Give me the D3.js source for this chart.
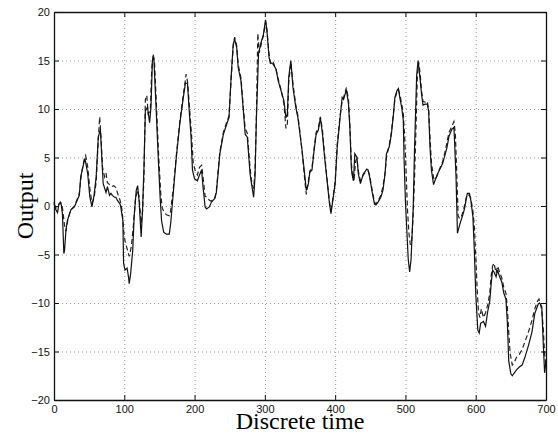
<!DOCTYPE html>
<html>
<head>
<meta charset="utf-8">
<script src="https://cdn.jsdelivr.net/npm/d3@7"></script>
<style>
  body { margin: 0; background: #fff; }
  svg { display: block; }
</style>
</head>
<body>
<div id="chart-container"></div>
<script>
// tick labels
let xTicks = [0, 100, 200, 300, 400, 500, 600, 700];
let yTicks = [-20, -15, -10, -5, 0, 5, 10, 15, 20];

// solid line (time, output)
let solidT = [0, 2, 5, 7, 10, 12, 14, 15, 17, 19, 24, 29, 33, 36, 38, 42, 44, 48, 51, 54, 57, 60, 63, 66, 68, 70, 74, 76, 79, 81, 83, 86, 88, 90, 94, 95, 98, 99, 101, 104, 106, 107, 109, 112, 114, 117, 119, 121, 124, 126, 128, 130, 133, 136, 138, 140, 142, 145, 148.5, 151, 153, 156, 160, 164, 166, 170, 174, 179, 184, 187, 190, 192, 195, 197, 200, 204, 207, 210, 212, 215, 217, 221, 224, 229, 231, 236, 241, 246, 249, 252, 255, 257, 260, 262, 266, 269, 272, 275, 279, 281, 284, 286, 288, 291, 294, 298, 301, 303, 306, 308, 312, 316, 319, 323, 327, 330, 332, 334, 337, 340, 344, 347, 350, 353, 357, 359, 362, 364, 367, 370, 373, 376, 379, 382, 385, 389, 392, 394, 396, 400, 403, 407, 410, 412, 416, 419, 421, 423, 424, 426, 428, 431, 433, 436, 440, 445, 447, 449, 453, 456, 458, 461, 465, 468, 471, 473, 477, 480, 483, 485, 488, 490, 492, 495, 497, 498, 500, 502, 504, 506, 508, 511, 513, 516, 518, 521, 523, 525, 528, 531, 533, 535, 537, 540, 542, 545, 549, 553, 556, 559, 562, 566, 569, 570, 572, 574, 577, 579, 581, 584, 586, 588, 591, 593, 596, 598, 600, 603, 605, 607, 611, 614, 617, 620, 622, 624, 626, 629, 631, 634, 637, 640, 643, 645, 647, 650, 652, 655, 658, 662, 666, 670, 675, 680, 684, 689, 691, 694, 696, 698, 700];
let solidY = [0.4, -0.3, -0.7, 0.2, 0.3, -0.8, -4.9, -4.6, -2.5, -1.5, -0.4, -0.1, 0.6, 1.1, 3.0, 4.3, 4.9, 3.3, 0.9, -0.1, 1.1, 3.0, 7.1, 7.9, 5.0, 2.3, 1.4, 2.0, 1.1, 1.3, 1.1, 0.9, 0.9, 0.6, 0.2, -0.1, -1.5, -5.9, -6.6, -6.4, -7.3, -8.0, -7.0, -4.6, -1.1, 1.6, 2.1, 0.6, -3.2, -0.4, 4.0, 9.8, 10.2, 8.6, 10.2, 15.0, 15.3, 10.5, 4.7, 0.9, -1.5, -2.7, -2.9, -2.9, -1.8, 1.6, 5.0, 8.5, 11.2, 12.7, 12.6, 10.2, 7.1, 3.7, 2.8, 2.6, 3.2, 3.7, 2.0, -0.1, -0.3, -0.1, 0.4, 0.8, 1.4, 5.4, 7.4, 8.5, 9.1, 13.3, 16.7, 17.2, 16.3, 14.3, 12.9, 10.2, 7.4, 7.1, 3.3, 2.3, 0.9, 3.0, 9.1, 15.7, 16.7, 17.7, 19.2, 18.0, 15.3, 14.8, 14.6, 14.1, 12.9, 11.9, 10.9, 9.1, 9.5, 13.3, 15.0, 12.2, 10.2, 9.1, 7.4, 5.7, 3.0, 1.6, 2.3, 3.5, 3.7, 5.7, 7.4, 7.8, 9.1, 7.4, 5.0, 2.3, 0.2, -0.8, 0.2, 2.3, 6.1, 9.1, 11.2, 11.0, 12.0, 10.5, 8.0, 4.0, 3.3, 2.6, 5.4, 5.0, 3.3, 2.3, 3.3, 3.8, 3.7, 3.0, 1.3, 0.2, 0.1, 0.4, 0.9, 1.6, 3.3, 5.4, 6.1, 7.4, 9.5, 11.2, 11.9, 12.1, 11.2, 10.0, 8.8, 5.0, 0.5, -2.5, -5.5, -6.8, -5.5, -0.4, 6.0, 13.5, 15.0, 13.0, 11.5, 10.4, 10.5, 10.5, 9.8, 6.0, 3.7, 2.2, 2.6, 3.2, 3.8, 4.4, 5.2, 6.0, 7.2, 7.9, 8.1, 6.5, 3.0, -2.8, -2.0, -1.5, -1.1, -0.3, 0.5, 1.3, 1.3, 0.6, -1.1, -4.5, -9.0, -12.8, -13.1, -12.1, -11.9, -12.4, -10.9, -9.8, -8.0, -6.6, -6.8, -7.3, -6.6, -7.3, -7.8, -9.0, -9.6, -12.0, -16.0, -17.3, -17.5, -17.2, -16.9, -16.6, -16.4, -15.6, -14.4, -13.0, -11.1, -10.1, -10.0, -10.4, -14.0, -17.2, -16.0];

// dashed line (time, output)
let dashedT = [0, 3, 6, 9, 12, 15, 17, 20, 24, 29, 33, 36, 39, 43, 45, 48, 51, 54, 57, 60, 63, 65, 67, 69, 72, 74, 76, 79, 82, 85, 88, 91, 94, 97, 99, 101, 104, 107, 110, 113, 116, 119, 121, 124, 126, 128, 130, 132, 134, 137, 139, 141, 143, 146, 149, 152, 154, 157, 160, 164, 166, 170, 174, 179, 184, 187, 188, 190, 193, 196, 198, 201, 204, 207, 210, 212, 215, 218, 221, 224, 229, 231, 236, 241, 246, 249, 252, 255, 257, 260, 262, 266, 269, 272, 275, 279, 281, 284, 286, 288, 290, 292, 294, 298, 301, 303, 306, 308, 312, 316, 319, 323, 327, 330, 332, 334, 337, 340, 344, 347, 350, 353, 357, 359, 362, 364, 367, 370, 373, 376, 379, 382, 385, 389, 392, 394, 396, 400, 403, 407, 410, 412, 416, 419, 421, 423, 425, 427, 429, 431, 433, 436, 440, 445, 447, 449, 453, 456, 458, 461, 465, 468, 471, 473, 477, 480, 483, 485, 488, 490, 492, 495, 497, 499, 501, 503, 505, 507, 509, 511, 513, 515, 517, 519, 521, 523, 525, 528, 531, 533, 535, 537, 540, 542, 545, 549, 553, 556, 559, 562, 566, 569, 571, 573, 575, 577, 579, 581, 584, 586, 588, 591, 593, 596, 598, 600, 602, 604, 606, 608, 611, 614, 617, 620, 622, 624, 626, 629, 631, 634, 637, 640, 643, 645, 647, 649, 652, 655, 658, 662, 666, 670, 675, 680, 684, 688, 690, 692, 694, 696, 698, 700];
let dashedY = [0.2, -0.2, 0.1, 0.4, -0.2, -2.0, -2.6, -1.3, -0.4, 0.0, 0.7, 1.3, 3.3, 4.8, 5.2, 4.0, 1.8, 0.3, 0.8, 2.5, 6.8, 9.2, 7.0, 4.0, 3.0, 3.4, 2.4, 2.2, 2.0, 2.1, 1.9, 1.2, 0.6, -0.5, -2.5, -3.6, -4.4, -5.2, -4.2, -2.0, 0.8, 1.6, 1.0, -1.8, -0.6, 3.0, 11.0, 11.4, 9.5, 9.8, 14.0, 15.7, 14.8, 10.0, 5.0, 1.2, -0.2, -0.7, -0.9, -1.0, -0.5, 2.0, 5.2, 8.7, 11.5, 13.0, 13.6, 12.8, 10.0, 7.0, 4.5, 3.6, 3.2, 4.0, 4.2, 3.0, 1.0, 0.9, 0.6, 0.5, 0.9, 1.6, 5.6, 7.6, 8.7, 9.3, 13.0, 16.5, 17.4, 16.5, 14.6, 13.2, 10.5, 8.0, 7.5, 3.9, 2.6, 1.8, 3.5, 9.5, 17.8, 15.8, 16.4, 17.6, 19.0, 18.2, 15.6, 14.6, 14.8, 14.0, 13.1, 12.0, 10.6, 8.0, 8.4, 12.8, 14.8, 12.6, 10.4, 9.3, 7.6, 5.6, 2.5, 1.2, 2.6, 3.6, 3.9, 5.9, 7.6, 8.0, 9.2, 7.8, 5.3, 2.4, 0.4, -0.4, 0.4, 2.5, 6.4, 9.3, 10.8, 11.2, 12.2, 11.0, 8.3, 4.5, 3.0, 2.8, 4.6, 4.9, 3.6, 2.6, 3.2, 3.6, 3.6, 3.2, 1.5, 0.4, 0.2, 0.5, 1.1, 2.0, 3.4, 5.0, 6.3, 7.6, 9.6, 11.0, 11.8, 12.0, 11.5, 10.4, 9.5, 7.0, 3.5, -0.5, -2.8, -4.0, -3.5, -1.0, 3.0, 8.0, 13.5, 14.8, 13.6, 11.8, 10.8, 10.7, 10.8, 10.0, 7.0, 4.5, 2.9, 2.7, 3.1, 3.9, 4.6, 5.5, 6.5, 7.6, 8.2, 8.7, 7.5, 3.5, -1.0, -1.3, -1.2, -0.8, 0.0, 0.7, 1.2, 1.1, 0.8, -0.5, -2.0, -5.0, -8.5, -11.0, -11.5, -10.6, -11.5, -11.0, -10.2, -9.0, -7.2, -6.2, -5.9, -6.9, -6.2, -6.8, -7.4, -8.4, -9.0, -10.5, -13.0, -15.2, -16.4, -16.1, -15.6, -15.3, -14.8, -14.0, -13.0, -11.8, -10.6, -9.8, -9.6, -10.0, -10.8, -12.5, -15.2, -16.5];

let width = 558;
let height = 434;
let margin = { top: 12, right: 12, bottom: 34, left: 54 };
let plotW = width - margin.left - margin.right;
let plotH = height - margin.top - margin.bottom;

var svg = d3
  .select("#chart-container")
  .append("svg")
  .attr("width", width)
  .attr("height", height)
  .style("font-family", "'Liberation Sans', Arial, sans-serif");

var g = svg.append("g").attr("transform", `translate(${margin.left},${margin.top})`);

let xScale = d3.scaleLinear().domain([0, 700]).range([0, plotW]);
let yScale = d3.scaleLinear().domain([-20, 20]).range([plotH, 0]);

// dotted grid
g.append("g")
  .selectAll("line")
  .data(xTicks.slice(1, -1))
  .enter()
  .append("line")
  .attr("x1", (d) => xScale(d) + 0.5)
  .attr("x2", (d) => xScale(d) + 0.5)
  .attr("y1", 0)
  .attr("y2", plotH)
  .style("stroke", "#999")
  .style("stroke-width", 1)
  .style("stroke-dasharray", "1,3");

g.append("g")
  .selectAll("line")
  .data(yTicks.slice(1, -1))
  .enter()
  .append("line")
  .attr("x1", 0)
  .attr("x2", plotW)
  .attr("y1", (d) => yScale(d) + 0.5)
  .attr("y2", (d) => yScale(d) + 0.5)
  .style("stroke", "#999")
  .style("stroke-width", 1)
  .style("stroke-dasharray", "1,3");

// lines
let line = d3
  .line()
  .x((d) => xScale(d[0]))
  .y((d) => yScale(d[1]));

g.append("path")
  .datum(dashedT.map((t, i) => [t, dashedY[i]]))
  .attr("d", line)
  .style("fill", "none")
  .style("stroke", "#222")
  .style("stroke-width", 1.2)
  .style("stroke-dasharray", "5,3");

g.append("path")
  .datum(solidT.map((t, i) => [t, solidY[i]]))
  .attr("d", line)
  .style("fill", "none")
  .style("stroke", "#111")
  .style("stroke-width", 1.2);

// axes, ticks pointing inward like matlab
let xAxisB = g.append("g")
  .attr("transform", `translate(0,${plotH})`)
  .call(d3.axisBottom(xScale).tickValues(xTicks).tickSizeInner(-5).tickSizeOuter(0).tickPadding(5));
let xAxisT = g.append("g")
  .call(d3.axisTop(xScale).tickValues(xTicks).tickSizeInner(-5).tickSizeOuter(0).tickFormat(""));
let yAxisL = g.append("g")
  .call(d3.axisLeft(yScale).tickValues(yTicks).tickSizeInner(-5).tickSizeOuter(0).tickPadding(4)
    .tickFormat((d) => (d < 0 ? "\u2212" + Math.abs(d) : d)));
let yAxisR = g.append("g")
  .attr("transform", `translate(${plotW},0)`)
  .call(d3.axisRight(yScale).tickValues(yTicks).tickSizeInner(-5).tickSizeOuter(0).tickFormat(""));

[xAxisB, xAxisT, yAxisL, yAxisR].forEach((a) => {
  a.selectAll(".domain").style("stroke", "#111").style("stroke-width", 1.3);
  a.selectAll(".tick line").style("stroke", "#111");
  a.selectAll("text").style("font-size", "11px").style("fill", "#111");
});

// axis labels
svg.append("text")
  .attr("x", margin.left + plotW / 2)
  .attr("y", 429)
  .style("text-anchor", "middle")
  .style("font-family", "'Liberation Serif', 'Times New Roman', serif")
  .style("font-size", "24px")
  .text("Discrete time");

svg.append("text")
  .attr("transform", "rotate(-90)")
  .attr("x", -(margin.top + plotH / 2))
  .attr("y", 33)
  .style("text-anchor", "middle")
  .style("font-family", "'Liberation Serif', 'Times New Roman', serif")
  .style("font-size", "24px")
  .text("Output");
</script>
</body>
</html>
